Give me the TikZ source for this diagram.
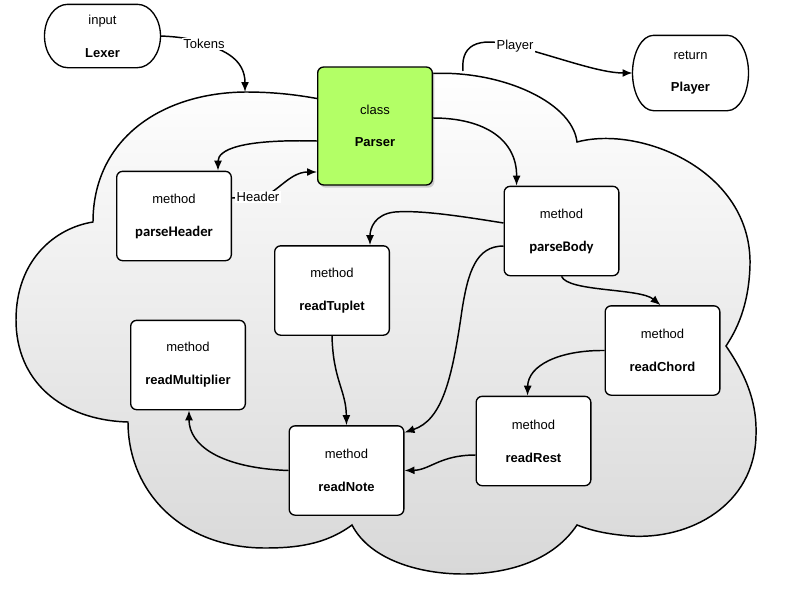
\documentclass[tikz,border=0pt]{standalone}
\usepackage{fontspec}
\setmainfont{Liberation Sans}
\newfontfamily\calb{Carlito}
\usetikzlibrary{arrows.meta,calc,shadows,backgrounds}
\definecolor{parsergreen}{RGB}{179,255,102}
\definecolor{cloudbot}{RGB}{216,216,216}
% #1 node name, #2 x radius, #3 x ctrl offset from corner, #4 y ctrl offset
\newcommand\mystadium[4]{%
  \path[stadline] ($(#1.north east)+(-#2,0)$)
   .. controls ($(#1.north east)+(-#3,0)$) and ($(#1.east)+(0,-#4)$) .. (#1.east)
   .. controls ($(#1.east)+(0,#4)$) and ($(#1.south east)+(-#3,0)$) .. ($(#1.south east)+(-#2,0)$)
   -- ($(#1.south west)+(#2,0)$)
   .. controls ($(#1.south west)+(#3,0)$) and ($(#1.west)+(0,#4)$) .. (#1.west)
   .. controls ($(#1.west)+(0,-#4)$) and ($(#1.north west)+(#3,0)$) .. ($(#1.north west)+(#2,0)$)
   -- cycle;}
\begin{document}
\begin{tikzpicture}[x=0.75pt,y=-0.75pt,
  box/.style={draw=black,line width=1pt,fill=white,rounded corners=4.5pt,
    minimum width=86pt,minimum height=67pt,align=center,inner sep=0pt,
    font=\fontsize{9.75}{12}\selectfont},
  stadium/.style={box,draw=none,fill=none,minimum height=46.5pt},
  stadline/.style={draw=black,line width=1pt,fill=white},
  conn/.style={draw=black,line width=1.1pt,-{Latex[length=7.5pt,width=6pt]}},
  lbl/.style={fill=white,inner sep=1pt,font=\fontsize{9.75}{12}\selectfont},
]
\useasboundingbox (0,0) rectangle (795,589);

% nodes
\node[stadium] (lexer) at (102.5,36) {input\\[12.75pt]\textbf{Lexer}};
\node[stadium,minimum height=55.5pt] (player) at (690.5,73) {return\\[12pt]\textbf{Player}};
\node[box,fill=parsergreen,minimum height=88.5pt,
  drop shadow={shadow xshift=1.5pt,shadow yshift=-2pt,opacity=0.35}] (parser) at (375,126) {class\\[12pt]\textbf{Parser}};
\node[box] (ph) at (174,216) {method\\[12.75pt]{\calb\bfseries\fontsize{11}{12}\selectfont parseHeader}};
\node[box] (pb) at (561.5,231) {method\\[12.75pt]{\calb\bfseries\fontsize{11}{12}\selectfont parseBody}};
\node[box] (rt) at (332,290.5) {method\\[12.75pt]\textbf{readTuplet}};
\node[box] (rm) at (188,365) {method\\[12.75pt]\textbf{readMultiplier}};
\node[box] (rc) at (662.5,350.5) {method\\[12.75pt]\textbf{readChord}};
\node[box] (rr) at (533.5,441) {method\\[12.75pt]\textbf{readRest}};
\node[box] (rn) at (346.5,470.5) {method\\[12.75pt]\textbf{readNote}};

% cloud and terminal outlines
\begin{scope}[on background layer]
\shadedraw[top color=white,bottom color=cloudbot,draw=black,line width=1.1pt]
 (93,222) .. controls (93,140) and (160,93) .. (245,92)
 .. controls (280,92) and (305,96) .. (330,101)
 -- (425,74)
 .. controls (495,68) and (572,100) .. (577,142)
 .. controls (640,125) and (752,170) .. (750,265)
 .. controls (749,300) and (740,325) .. (726,346)
 .. controls (748,378) and (757,405) .. (756,435)
 .. controls (755,505) and (690,540) .. (630,536)
 .. controls (605,534) and (590,530) .. (577,525)
 .. controls (550,565) and (500,574) .. (463,574)
 .. controls (420,574) and (370,560) .. (352,525)
 .. controls (325,545) and (295,548) .. (265,548)
 .. controls (180,548) and (128,490) .. (128,422)
 .. controls (60,420) and (16,380) .. (16,320)
 .. controls (16,260) and (55,228) .. (93,222) -- cycle;
\mystadium{lexer}{23}{10.3}{17.1}
\mystadium{player}{21}{9.4}{20.4}
\end{scope}

\coordinate (ctop) at (245,92);
\coordinate (pstart) at (463,71);
\coordinate (tokc) at (204,44);
\coordinate (plc) at (515,46);
\coordinate (hdc) at (258,197);

% connectors
\draw[conn] (lexer.east) .. controls (185,37) and (195,40) .. (tokc)
  .. controls (225,50) and (245,60) .. (ctop);
\draw[conn] (pstart) .. controls (460,40) and (485,38) .. (plc)
  .. controls (560,58) and (600,73) .. (player.west);
\draw[conn] ($(parser.west)+(0,15)$) .. controls (240,139) and (218,150) .. ($(ph.north)+(44,0)$);
\draw[conn] ($(ph.east)+(0,-18)$) -- (hdc) .. controls (275,197) and (288,172) .. ($(parser.west)+(0,46)$);
\draw[conn] ($(parser.east)+(0,-8)$) .. controls (485,118) and (517,140) .. ($(pb.north)+(-45,0)$);
\draw[conn] ($(pb.west)+(0,-8)$) .. controls (460,216) and (420,210) .. (395,212)
  .. controls (375,214) and (370,228) .. ($(rt.north)+(38,0)$);
\draw[conn] ($(pb.west)+(0,15)$) .. controls (476,246) and (468,272) .. (462,310)
  .. controls (452,380) and (442,420) .. ($(rn.east)+(0,-38)$);
\draw[conn] (pb.south) .. controls (568,292) and (640,288) .. ($(rc.north)+(-2,0)$);
\draw[conn] (rc.west) .. controls (560,350) and (528,365) .. ($(rr.north)+(-6,0)$);
\draw[conn] ($(rr.west)+(0,14)$) .. controls (440,455) and (430,470) .. (rn.east);
\draw[conn] (rt.south) .. controls (333,380) and (346,390) .. (rn.north);
\draw[conn] (rn.west) .. controls (220,468) and (189,445) .. ($(rm.south)+(1,0)$);

% labels
\node[lbl] (tokl) at (tokc) {Tokens};
\node[lbl] (pll) at (plc) {Player};
\node[lbl] (hdl) at (hdc) {Header};
\end{tikzpicture}
\end{document}
